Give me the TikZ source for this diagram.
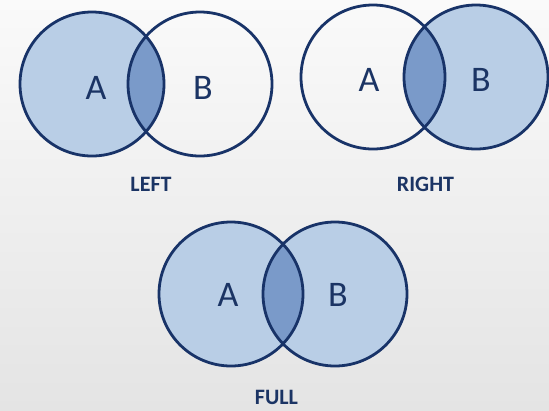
\documentclass[tikz,border=0pt]{standalone}
\usepackage{fontspec}
\setmainfont{Carlito}
\definecolor{bgtop}{RGB}{250,250,250}
\definecolor{bgbot}{RGB}{228,228,228}
\definecolor{setfill}{RGB}{185,206,230}
\definecolor{interfill}{RGB}{122,154,201}
\definecolor{edge}{RGB}{24,51,104}
\definecolor{txt}{RGB}{27,52,100}
\tikzset{
  ring/.style={draw=edge, line width=2.8pt},
  setlabel/.style={text=txt, font=\fontsize{36}{36}\selectfont, inner sep=0pt},
  caption/.style={text=txt, font=\bfseries\fontsize{22}{22}\selectfont, inner sep=0pt}
}
\begin{document}
\begin{tikzpicture}[x=1pt,y=-1pt]
\shade[top color=bgtop, bottom color=bgbot] (0,0) rectangle (549,410);
\useasboundingbox (0,0) rectangle (549,410);
\def\R{72}
% LEFT
\fill[setfill] (92,84) circle (\R);
\begin{scope}\clip (92,84) circle (\R); \fill[interfill] (200,84) circle (\R);\end{scope}
\draw[ring] (92,84) circle (\R);
\draw[ring] (200,84) circle (\R);
\node[setlabel] (la) at (96,88) {A};
\node[setlabel] (lb) at (203,88) {B};
\node[caption] (lc) at (151,184) {LEFT};
% RIGHT
\fill[setfill] (476,77) circle (\R);
\begin{scope}\clip (476,77) circle (\R); \fill[interfill] (373,77) circle (\R);\end{scope}
\draw[ring] (373,77) circle (\R);
\draw[ring] (476,77) circle (\R);
\node[setlabel] (ra) at (369,80) {A};
\node[setlabel] (rb) at (481,80) {B};
\node[caption] (rc) at (425.5,184) {RIGHT};
% FULL
\fill[setfill] (231,294) circle (\R);
\fill[setfill] (335,294) circle (\R);
\begin{scope}\clip (231,294) circle (\R); \fill[interfill] (335,294) circle (\R);\end{scope}
\draw[ring] (231,294) circle (\R);
\draw[ring] (335,294) circle (\R);
\node[setlabel] (fa) at (228,295) {A};
\node[setlabel] (fb) at (338,295) {B};
\node[caption] (fc) at (276.5,397) {FULL};
\end{tikzpicture}
\end{document}
